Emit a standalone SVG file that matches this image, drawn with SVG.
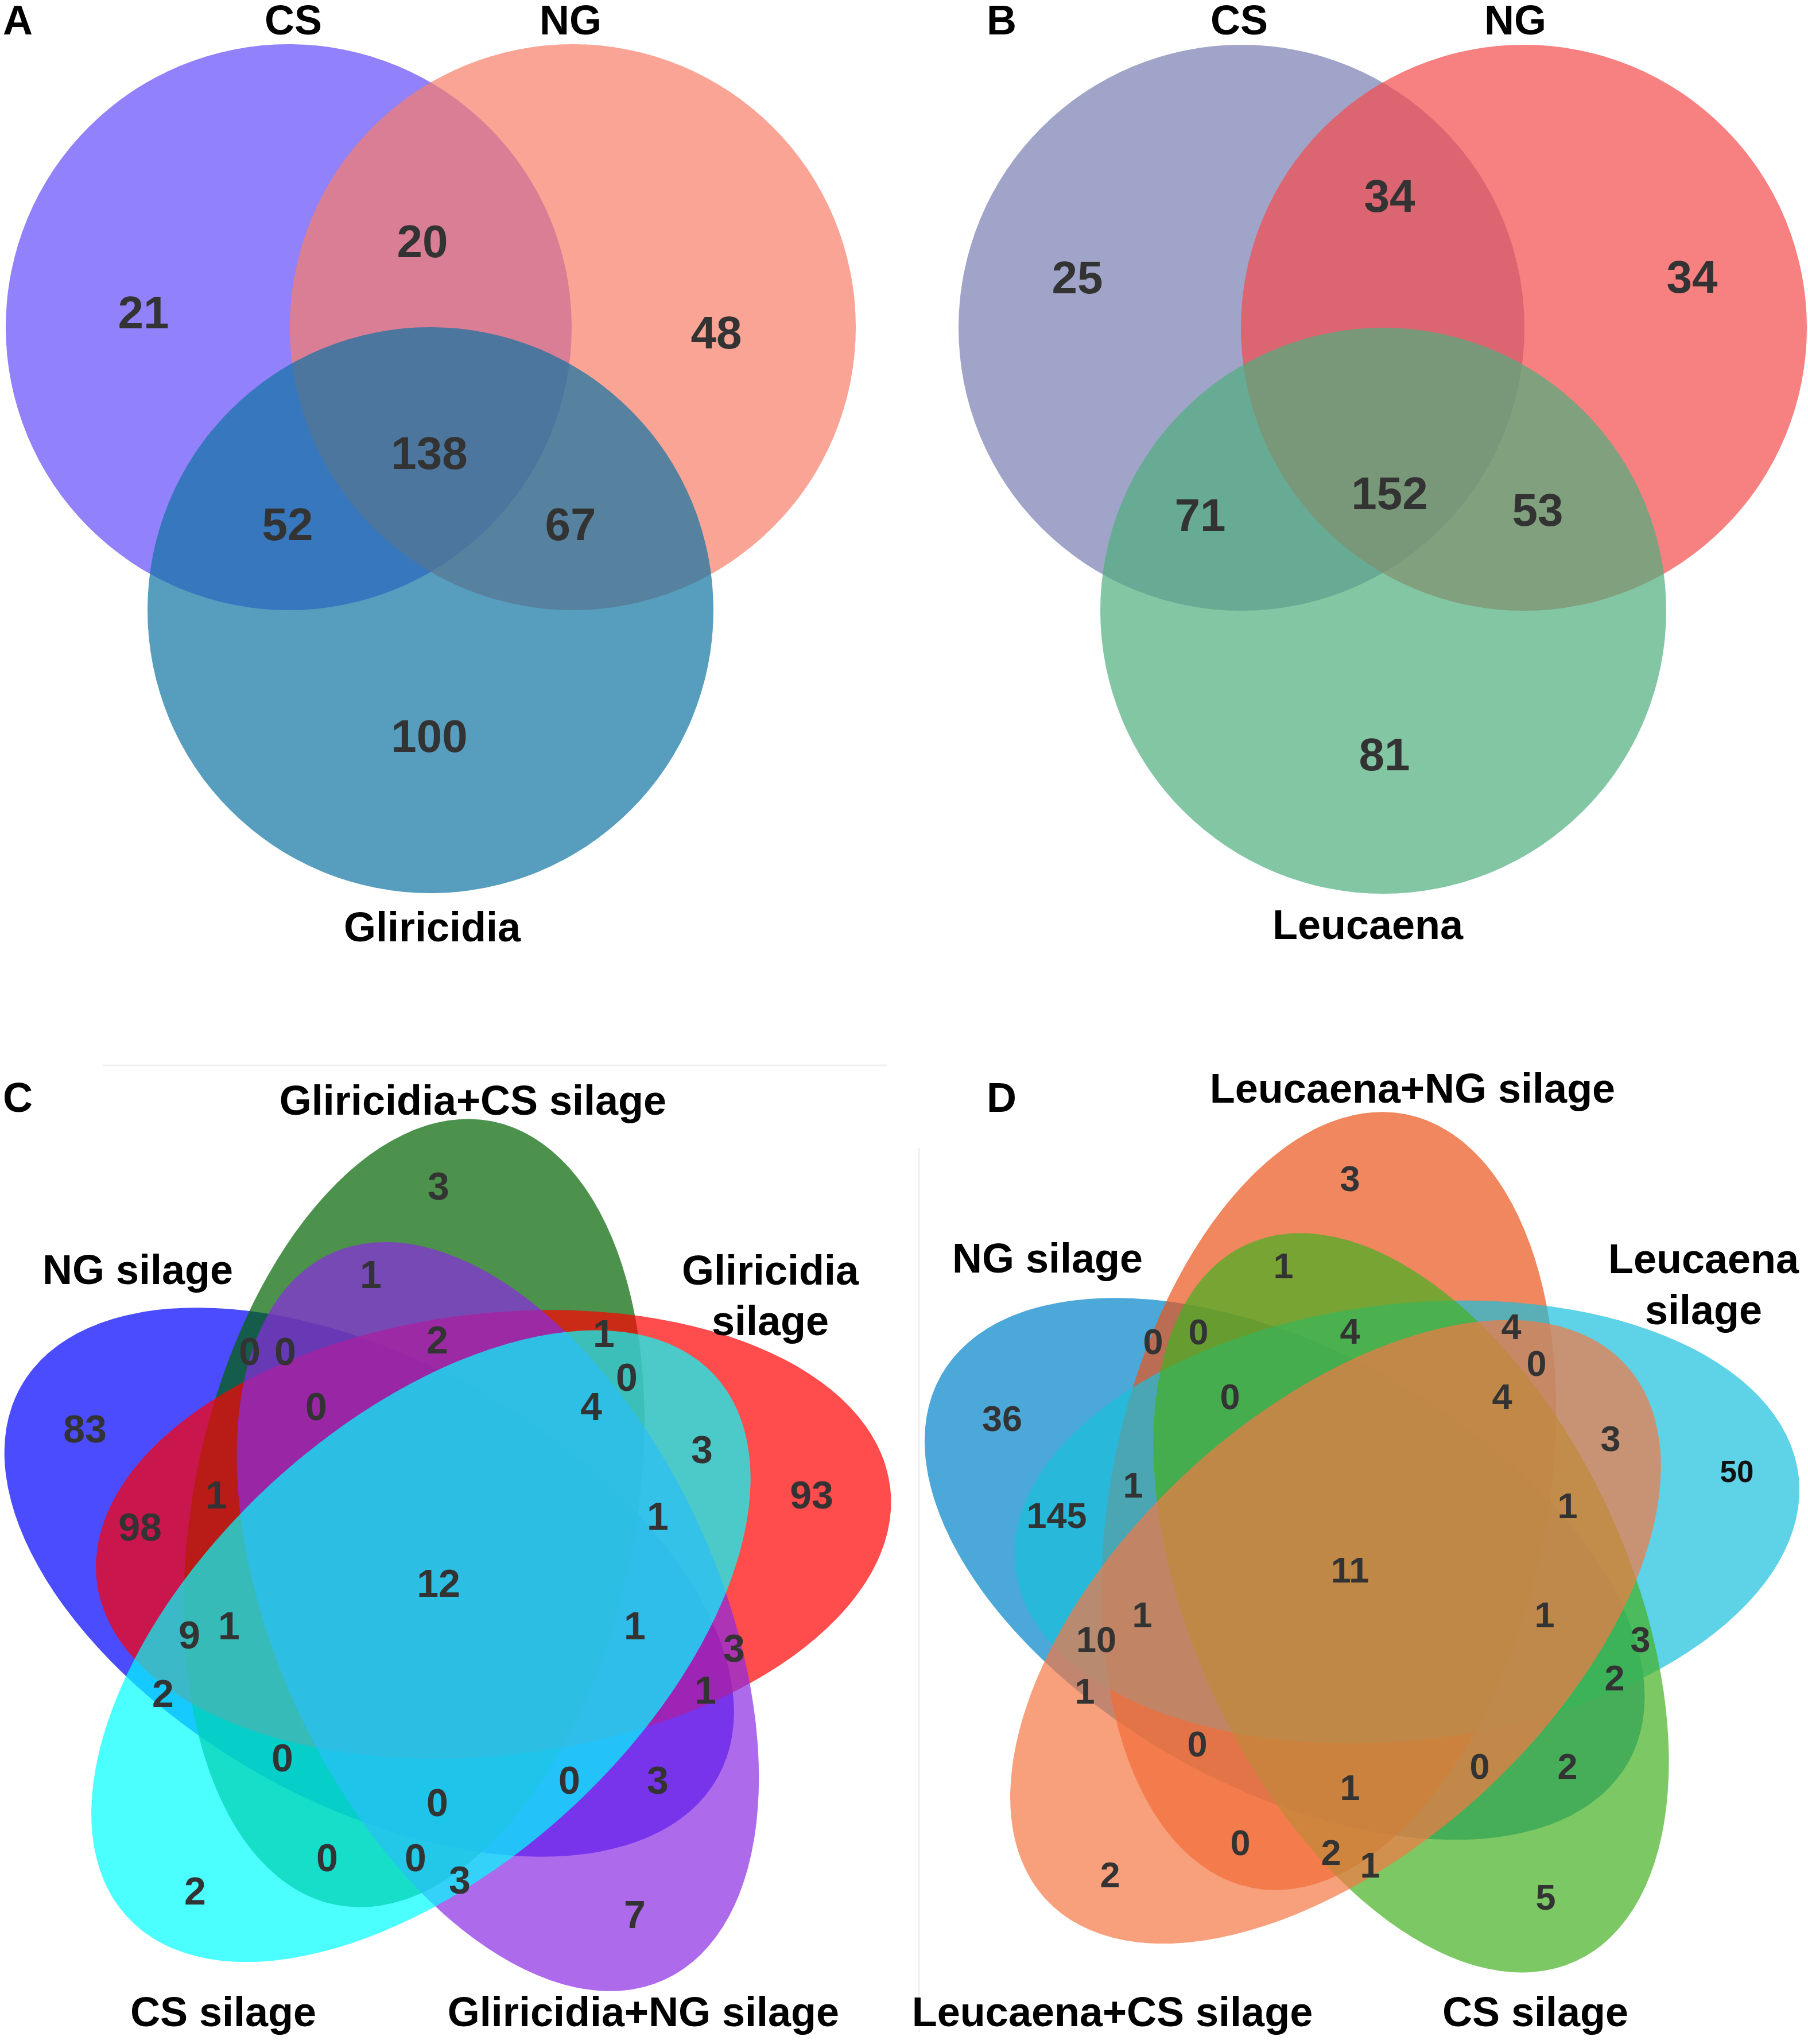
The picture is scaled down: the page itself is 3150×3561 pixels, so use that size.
<svg xmlns="http://www.w3.org/2000/svg" width="3150" height="3561" viewBox="0 0 3150 3561">
<style>
text{font-family:"Liberation Sans",Arial,Helvetica,sans-serif;font-weight:bold}
.lab{font-size:72px;fill:#000;text-anchor:middle}
.pl{font-size:72px;fill:#000}
.na{font-size:80px;fill:#333;text-anchor:middle}
.nc{font-size:68px;fill:#333;text-anchor:middle}
.nd{font-size:63px;fill:#333;text-anchor:middle}
.s{fill-opacity:0.7;stroke:none}
.faint{stroke:#f0f0f0;stroke-width:3;fill:none}
</style>
<rect width="3150" height="3561" fill="#fff"/>

<!-- Panel A -->
<g id="panelA">
  <g id="A_CS"><circle class="s" cx="503" cy="570" r="493" fill="rgb(98,76,248)"/></g>
  <g id="A_NG"><circle class="s" cx="998" cy="570" r="493" fill="rgb(248,126,105)"/></g>
  <g id="A_Gliricidia"><circle class="s" cx="750" cy="1063" r="493" fill="rgb(16,116,162)"/></g>
  <g id="A_labels">
    <text class="pl" x="5" y="60">A</text>
    <text class="lab" x="511" y="60">CS</text>
    <text class="lab" x="994" y="60">NG</text>
    <text class="lab" x="753" y="1640">Gliricidia</text>
    <text class="na" x="250" y="572">21</text>
    <text class="na" x="736" y="448">20</text>
    <text class="na" x="1248" y="607">48</text>
    <text class="na" x="748" y="817">138</text>
    <text class="na" x="501" y="941">52</text>
    <text class="na" x="994" y="941">67</text>
    <text class="na" x="748" y="1310">100</text>
  </g>
</g>

<!-- Panel B -->
<g id="panelB">
  <g id="B_CS"><circle class="s" cx="2163" cy="571" r="493" fill="rgb(119,126,176)"/></g>
  <g id="B_NG"><circle class="s" cx="2655" cy="571" r="493" fill="rgb(244,74,74)"/></g>
  <g id="B_Leucaena"><circle class="s" cx="2410" cy="1064" r="493" fill="rgb(79,174,125)"/></g>
  <g id="B_labels">
    <text class="pl" x="1719" y="60">B</text>
    <text class="lab" x="2159" y="60">CS</text>
    <text class="lab" x="2640" y="60">NG</text>
    <text class="lab" x="2383" y="1636">Leucaena</text>
    <text class="na" x="1877" y="511">25</text>
    <text class="na" x="2421" y="369">34</text>
    <text class="na" x="2948" y="510">34</text>
    <text class="na" x="2091" y="925">71</text>
    <text class="na" x="2421" y="887">152</text>
    <text class="na" x="2679" y="916">53</text>
    <text class="na" x="2412" y="1342">81</text>
  </g>
</g>

<!-- Panel C -->
<g id="panelC">
  <line class="faint" x1="180" y1="1856" x2="1546" y2="1856"/>
  <g id="C_NG_silage"><ellipse class="s" cx="643.2" cy="2756.4" rx="696" ry="385" fill="rgb(0,0,255)" transform="rotate(-150.7 643.2 2756.4)"/></g>
  <g id="C_Gliricidia_CS_silage"><ellipse class="s" cx="721.3" cy="2636.1" rx="696" ry="385" fill="rgb(0,100,0)" transform="rotate(-78.7 721.3 2636.1)"/></g>
  <g id="C_Gliricidia_silage"><ellipse class="s" cx="859.8" cy="2673.2" rx="696" ry="385" fill="rgb(255,0,0)" transform="rotate(-6.7 859.8 2673.2)"/></g>
  <g id="C_Gliricidia_NG_silage"><ellipse class="s" cx="867.3" cy="2816.4" rx="696" ry="385" fill="rgb(138,43,226)" transform="rotate(-294.7 867.3 2816.4)"/></g>
  <g id="C_CS_silage"><ellipse class="s" cx="733.4" cy="2867.8" rx="696" ry="385" fill="rgb(0,255,255)" transform="rotate(-222.7 733.4 2867.8)"/></g>
  <g id="C_labels">
    <text class="pl" x="5" y="1937">C</text>
    <text class="lab" x="824" y="1942">Gliricidia+CS silage</text>
    <text class="lab" x="240" y="2237">NG silage</text>
    <text class="lab" x="1342" y="2238">Gliricidia</text>
    <text class="lab" x="1342" y="2326">silage</text>
    <text class="lab" x="389" y="3530">CS silage</text>
    <text class="lab" x="1121" y="3530">Gliricidia+NG silage</text>
    <text class="nc" x="764" y="2090">3</text>
    <text class="nc" x="646" y="2244">1</text>
    <text class="nc" x="762" y="2358">2</text>
    <text class="nc" x="1052" y="2347">1</text>
    <text class="nc" x="435" y="2378">0</text>
    <text class="nc" x="497" y="2378">0</text>
    <text class="nc" x="1092" y="2423">0</text>
    <text class="nc" x="551" y="2474">0</text>
    <text class="nc" x="1030" y="2474">4</text>
    <text class="nc" x="148" y="2513">83</text>
    <text class="nc" x="1223" y="2549">3</text>
    <text class="nc" x="1414" y="2628">93</text>
    <text class="nc" x="377" y="2628">1</text>
    <text class="nc" x="1146" y="2665">1</text>
    <text class="nc" x="244" y="2684">98</text>
    <text class="nc" x="764" y="2782">12</text>
    <text class="nc" x="330" y="2872">9</text>
    <text class="nc" x="399" y="2856">1</text>
    <text class="nc" x="1106" y="2856">1</text>
    <text class="nc" x="1279" y="2895">3</text>
    <text class="nc" x="284" y="2974">2</text>
    <text class="nc" x="1229" y="2968">1</text>
    <text class="nc" x="492" y="3086">0</text>
    <text class="nc" x="992" y="3125">0</text>
    <text class="nc" x="1146" y="3125">3</text>
    <text class="nc" x="762" y="3164">0</text>
    <text class="nc" x="570" y="3260">0</text>
    <text class="nc" x="724" y="3260">0</text>
    <text class="nc" x="801" y="3299">3</text>
    <text class="nc" x="340" y="3318">2</text>
    <text class="nc" x="1106" y="3359">7</text>
  </g>
</g>

<!-- Panel D -->
<g id="panelD">
  <line class="faint" x1="1601" y1="2000" x2="1601" y2="3540"/>
  <g id="D_NG_silage"><ellipse class="s" cx="2238.2" cy="2733.3" rx="687" ry="380" fill="rgb(0,131,199)" transform="rotate(-150.7 2238.2 2733.3)"/></g>
  <g id="D_Leucaena_NG_silage"><ellipse class="s" cx="2315" cy="2615" rx="687" ry="380" fill="rgb(234,84,26)" transform="rotate(-78.7 2315 2615)"/></g>
  <g id="D_Leucaena_silage"><ellipse class="s" cx="2451.3" cy="2651.5" rx="687" ry="380" fill="rgb(26,191,219)" transform="rotate(-6.7 2451.3 2651.5)"/></g>
  <g id="D_CS_silage"><ellipse class="s" cx="2458.6" cy="2792.4" rx="687" ry="380" fill="rgb(69,176,34)" transform="rotate(-294.7 2458.6 2792.4)"/></g>
  <g id="D_Leucaena_CS_silage"><ellipse class="s" cx="2326.9" cy="2842.9" rx="687" ry="380" fill="rgb(245,119,69)" transform="rotate(-222.7 2326.9 2842.9)"/></g>
  <g id="D_labels">
    <text class="pl" x="1719" y="1937">D</text>
    <text class="lab" x="2461" y="1921">Leucaena+NG silage</text>
    <text class="lab" x="1825" y="2217">NG silage</text>
    <text class="lab" x="2968" y="2218">Leucaena</text>
    <text class="lab" x="2968" y="2307">silage</text>
    <text class="lab" x="1938" y="3530">Leucaena+CS silage</text>
    <text class="lab" x="2675" y="3530">CS silage</text>
    <text class="nd" x="2352" y="2075">3</text>
    <text class="nd" x="2236" y="2227">1</text>
    <text class="nd" x="2009" y="2359">0</text>
    <text class="nd" x="2088" y="2342">0</text>
    <text class="nd" x="2352" y="2341">4</text>
    <text class="nd" x="2633" y="2333">4</text>
    <text class="nd" x="2677" y="2397">0</text>
    <text class="nd" x="2143" y="2455">0</text>
    <text class="nd" x="2617" y="2455">4</text>
    <text class="nd" x="1746" y="2493">36</text>
    <text class="nd" x="2806" y="2528">3</text>
    <text class="nd" x="3026" y="2582" style="font-size:53px;fill:#111">50</text>
    <text class="nd" x="1974" y="2609">1</text>
    <text class="nd" x="2731" y="2645">1</text>
    <text class="nd" x="1841" y="2662">145</text>
    <text class="nd" x="2352" y="2757">11</text>
    <text class="nd" x="1990" y="2835">1</text>
    <text class="nd" x="2691" y="2835">1</text>
    <text class="nd" x="1910" y="2878">10</text>
    <text class="nd" x="2858" y="2878">3</text>
    <text class="nd" x="2813" y="2945">2</text>
    <text class="nd" x="1890" y="2968">1</text>
    <text class="nd" x="2086" y="3060">0</text>
    <text class="nd" x="2578" y="3099">0</text>
    <text class="nd" x="2731" y="3099">2</text>
    <text class="nd" x="2352" y="3136">1</text>
    <text class="nd" x="2161" y="3232">0</text>
    <text class="nd" x="2319" y="3249">2</text>
    <text class="nd" x="2387" y="3271">1</text>
    <text class="nd" x="1934" y="3288">2</text>
    <text class="nd" x="2693" y="3327">5</text>
  </g>
</g>
</svg>
